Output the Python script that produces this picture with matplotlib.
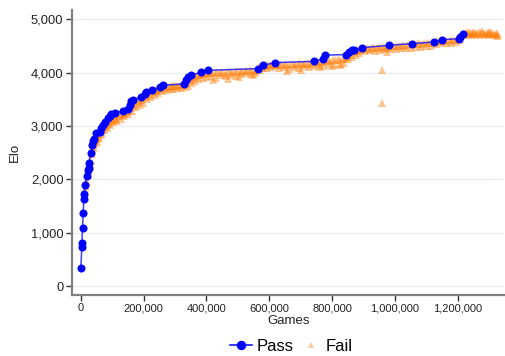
import matplotlib
matplotlib.use("Agg")
import matplotlib.pyplot as plt
from matplotlib.ticker import FuncFormatter
from matplotlib.lines import Line2D

plt.rcParams['font.family'] = ['Liberation Sans', 'DejaVu Sans']

# ---- Pass series (games, elo) ----
pass_games = [0, 3200, 3200, 5400, 7300, 9500, 10500, 12700, 18100, 21300,
              25400, 25400, 30800, 35900, 39000, 41300, 49800, 60300, 65700, 70800,
              76200, 85700, 92100, 97500, 108000, 134300, 150200, 155600, 161000, 166000,
              192700, 203200, 208600, 227600, 250800, 261300, 328000, 335600, 340600, 351400,
              383200, 406300, 562900, 578700, 618100, 742900, 772400, 776000, 845400, 854000,
              864400, 869800, 896200, 981000, 1053000, 1123800, 1150200, 1203200, 1208600,
              1215900]
pass_elo = [337, 736, 805, 1086, 1367, 1629, 1723, 1891, 2060, 2172,
            2210, 2303, 2490, 2640, 2720, 2753, 2865, 2890, 2960, 3015,
            3077, 3146, 3183, 3220, 3250, 3277, 3327, 3390, 3470, 3496,
            3545, 3608, 3638, 3683, 3732, 3764, 3790, 3858, 3920, 3951,
            4013, 4045, 4077, 4138, 4189, 4213, 4257, 4330, 4340, 4388,
            4419, 4432, 4470, 4513, 4545, 4575, 4620, 4638, 4670,
            4719]

# ---- Fail series (games in thousands, elo) ----
fail_games_k = [
    12, 15, 18, 22, 25, 28, 32, 36, 40, 44, 48, 52, 56, 60, 64, 68, 72, 76, 80, 85,
    90, 95, 100, 105, 20, 30, 42, 50, 58, 66, 74, 82, 92, 102, 108,
    112, 118, 124, 130, 136, 142, 148, 154, 160, 166, 172, 178, 184, 190, 196, 202,
    208, 214, 220, 226, 232, 238, 244, 250, 256, 262, 268, 274, 280, 286, 292, 298,
    304, 310, 316, 322, 328, 334,
    115, 127, 139, 151, 163, 175, 187, 199, 211, 223, 235, 247, 259, 271, 283, 295,
    307, 319, 331,
    338, 344, 350, 356, 362, 368, 374, 380, 386, 392, 398, 404,
    341, 353, 365, 377, 389, 401,
    410, 418, 426, 434, 442, 450, 458, 466, 474, 482, 490, 498, 506, 514, 522, 530,
    538, 546, 554, 560,
    414, 430, 446, 462, 478, 494, 510, 526, 542, 556,
    420, 470, 505, 548,
    566, 572, 578, 584, 590, 596, 602, 608, 614, 620,
    569, 581, 593, 605, 617,
    626, 634, 642, 650, 658, 666, 674, 682, 690, 698, 706, 714, 722, 730, 738, 746,
    754, 762, 770, 778, 786, 794, 802, 810, 818, 826, 834, 842,
    630, 646, 662, 678, 694, 710, 726, 742, 758, 774, 790, 806, 822, 838,
    655, 700, 760, 800, 830,
    848, 854, 860, 866, 872, 878, 884, 890, 896,
    851, 863, 875, 887,
    902, 910, 918, 926, 934, 942, 950, 958, 966, 974, 982, 990, 998, 1006, 1014, 1022,
    1030, 1038, 1046, 1054, 1062, 1070, 1078, 1086, 1094, 1102, 1110, 1118, 1126, 1134,
    1142, 1150, 1158, 1166, 1174, 1182, 1190, 1198, 1206, 1212,
    906, 922, 938, 954, 970, 986, 1002, 1018, 1034, 1050, 1066, 1082, 1098, 1114, 1130,
    1146, 1162, 1178, 1194, 1208,
    960, 960, 975,
    1220, 1226, 1232, 1238, 1244, 1250, 1256, 1262, 1268, 1274, 1280, 1286, 1292, 1298,
    1304, 1310, 1316, 1322, 1328,
    1223, 1235, 1247, 1259, 1271, 1283, 1295, 1307, 1319, 1326,
    1229, 1253, 1277, 1301, 1325,
]
fail_elo = [
    1750, 1850, 1950, 2080, 2150, 2230, 2350, 2480, 2580, 2660, 2720, 2760, 2800, 2840, 2880, 2920, 2950, 2980, 3000, 3030,
    3060, 3090, 3110, 3130, 1950, 2250, 2600, 2700, 2780, 2860, 2920, 2960, 3020, 3080, 3120,
    3160, 3180, 3200, 3210, 3230, 3250, 3270, 3290, 3330, 3380, 3420, 3450, 3470, 3490, 3510, 3540,
    3570, 3590, 3610, 3630, 3650, 3660, 3680, 3700, 3710, 3720, 3730, 3730, 3740, 3745, 3750, 3750,
    3760, 3760, 3770, 3770, 3780, 3790,
    3100, 3140, 3180, 3220, 3280, 3360, 3400, 3440, 3500, 3550, 3580, 3620, 3650, 3670, 3690, 3700,
    3710, 3720, 3740,
    3820, 3860, 3880, 3900, 3920, 3940, 3950, 3960, 3970, 3980, 3990, 4000,
    3760, 3800, 3850, 3880, 3900, 3920,
    4010, 4000, 3990, 4020, 4000, 4010, 3980, 4020, 4030, 4000, 4010, 4030, 4020, 4040, 4030, 4040,
    4050, 4030, 4040, 4060,
    3940, 3900, 3950, 3930, 3960, 3940, 3970, 3990, 3980, 4000,
    3860, 3880, 3920, 3950,
    4100, 4110, 4120, 4130, 4140, 4140, 4150, 4160, 4160, 4170,
    4060, 4080, 4090, 4110, 4120,
    4150, 4160, 4140, 4170, 4150, 4160, 4170, 4150, 4160, 4180, 4170, 4160, 4180, 4170, 4190, 4200,
    4190, 4210, 4200, 4220, 4230, 4220, 4240, 4230, 4250, 4240, 4260, 4270,
    4080, 4100, 4070, 4110, 4090, 4120, 4100, 4130, 4140, 4130, 4160, 4150, 4170, 4190,
    4030, 4050, 4100, 4120, 4150,
    4300, 4330, 4360, 4380, 4400, 4410, 4420, 4430, 4440,
    4250, 4300, 4340, 4370,
    4460, 4470, 4450, 4480, 4470, 4460, 4480, 4490, 4470, 4480, 4500, 4490, 4500, 4510, 4500, 4520,
    4510, 4520, 4530, 4540, 4530, 4540, 4550, 4540, 4560, 4550, 4560, 4570, 4580, 4590,
    4600, 4600, 4610, 4600, 4610, 4620, 4620, 4630, 4660, 4700,
    4400, 4420, 4410, 4430, 4440, 4440, 4450, 4460, 4460, 4470, 4480, 4490, 4500, 4510, 4530,
    4550, 4560, 4560, 4580, 4620,
    4058, 3433, 4388,
    4740, 4750, 4730, 4760, 4740, 4750, 4730, 4740, 4760, 4740, 4750, 4730, 4750, 4740,
    4760, 4740, 4730, 4720, 4710,
    4710, 4720, 4700, 4720, 4710, 4730, 4710, 4720, 4700, 4690,
    4770, 4770, 4780, 4770, 4740,
]
fail_games = [g * 1000 for g in fail_games_k]

x_ticks = [0, 200000, 400000, 600000, 800000, 1000000, 1200000]
y_ticks = [0, 1000, 2000, 3000, 4000, 5000]

fig = plt.figure(figsize=(5.06, 3.56), dpi=100)
ax = fig.add_axes([0.142, 0.171, 0.855, 0.80])

ax.plot(fail_games, fail_elo, linestyle='none', marker='^', markersize=5.2,
        color='#ff7f0e', alpha=0.45, markeredgewidth=0, zorder=2)
ax.plot(pass_games, pass_elo, color='#0000ff', alpha=0.75, linewidth=1.1, zorder=3)
ax.plot(pass_games, pass_elo, linestyle='none', marker='o', markersize=5.8,
        color='#0000ff', markeredgewidth=0, zorder=4)

ax.set_xlim(-28600, 1349000)
ax.set_ylim(-169, 5170)
ax.set_xticks(x_ticks)
ax.set_yticks(y_ticks)
fmt = FuncFormatter(lambda v, p: f"{int(v):,}")
ax.xaxis.set_major_formatter(fmt)
ax.yaxis.set_major_formatter(fmt)

ax.grid(axis='y', color='#eaf0f1', linewidth=1.0)
ax.set_axisbelow(True)
for s in ['top', 'right']:
    ax.spines[s].set_visible(False)
for s in ['left', 'bottom']:
    ax.spines[s].set_color('#808080')
    ax.spines[s].set_linewidth(1.6)
ax.tick_params(axis='both', direction='out', length=4, width=1, color='#333333',
               labelsize=8, labelcolor='#222222', pad=2)
ax.tick_params(axis='y', labelsize=9.3)
ax.set_xlabel('Games', fontsize=9.5, labelpad=1, color='#222222')
ax.set_ylabel('Elo', fontsize=9.5, labelpad=7, color='#222222')

handles = [Line2D([0], [0], color='#0000ff', marker='o', markersize=5.8, linewidth=1.1),
           Line2D([0], [0], color='#ff7f0e', alpha=0.4, marker='^', markersize=4.5,
                  linestyle='none', markeredgewidth=0)]
fig.legend(handles, ['Pass', 'Fail'], loc='center', bbox_to_anchor=(0.576, 0.028),
           ncol=2, frameon=False, fontsize=12, handlelength=1.35, handletextpad=0.25,
           columnspacing=0.35)

fig.savefig('out.png', dpi=100)
